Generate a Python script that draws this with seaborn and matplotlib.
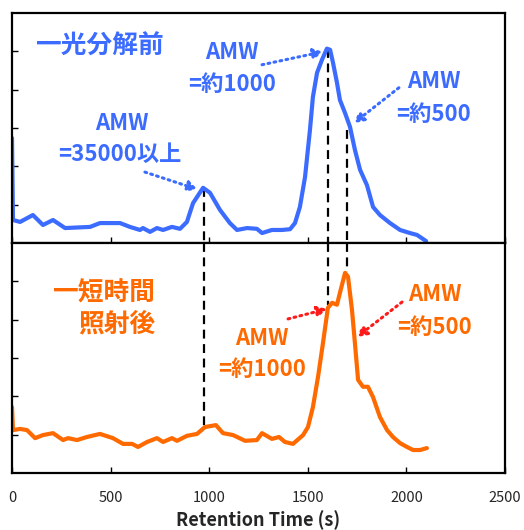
import numpy as np
import pandas as pd
import matplotlib.pyplot as plt
import seaborn as sns

sns.set_style("white")
plt.rcParams["font.family"] = ["Noto Sans CJK JP", "DejaVu Sans"]

# 光分解前 (top trace)
time_before = [0, 5, 41, 106, 157, 208, 269, 396, 446, 548, 598, 649, 664, 700, 735, 766,
               811, 852, 887, 918, 969, 1004, 1055, 1105, 1141, 1192, 1242, 1268, 1318, 1369,
               1410, 1435, 1460, 1486, 1511, 1526, 1547, 1572, 1597, 1613, 1628, 1648, 1663,
               1689, 1714, 1739, 1765, 1800, 1831, 1866, 1917, 1968, 2018, 2054, 2100]
signal_before = [2.74, 0.60, 0.55, 0.73, 0.47, 0.60, 0.39, 0.42, 0.52, 0.52, 0.42, 0.34, 0.39,
                 0.29, 0.39, 0.34, 0.42, 0.37, 0.55, 1.04, 1.44, 1.31, 0.86, 0.52, 0.34, 0.39,
                 0.37, 0.26, 0.34, 0.34, 0.36, 0.52, 0.94, 1.72, 2.95, 3.81, 4.44, 4.78, 5.07,
                 5.04, 4.70, 4.18, 3.73, 3.39, 3.03, 2.43, 1.91, 1.51, 0.94, 0.73, 0.52, 0.34,
                 0.26, 0.21, 0.05]

# 短時間照射後 (bottom trace)
time_after = [0, 5, 41, 76, 117, 157, 208, 259, 284, 330, 380, 446, 512, 563, 609, 639, 685,
              735, 766, 811, 837, 887, 938, 979, 1034, 1070, 1121, 1182, 1242, 1268, 1318,
              1354, 1384, 1425, 1476, 1501, 1526, 1552, 1577, 1602, 1623, 1648, 1663, 1689,
              1704, 1724, 1739, 1755, 1780, 1805, 1831, 1866, 1902, 1932, 1968, 2003, 2034,
              2069, 2104]
signal_after = [1.72, 1.12, 1.15, 1.12, 0.91, 0.99, 1.04, 0.86, 0.91, 0.86, 0.94, 1.02, 0.91,
                0.76, 0.76, 0.68, 0.81, 0.91, 0.81, 0.91, 0.84, 0.97, 1.02, 1.20, 1.25, 1.04,
                0.99, 0.84, 0.86, 1.04, 0.89, 0.94, 0.81, 0.76, 0.99, 1.20, 1.72, 2.51, 3.39,
                4.31, 4.44, 4.39, 4.70, 5.22, 5.12, 4.26, 3.39, 2.43, 2.25, 2.25, 1.98, 1.46,
                1.12, 0.94, 0.78, 0.68, 0.60, 0.60, 0.65]

# dashed guide lines: time, height on top trace, height on bottom trace
guide_times = [975, 1605, 1700]
guide_top = [1.44, 5.07, 2.95]
guide_bottom = [1.20, 4.39, 5.25]

x_ticks = [0, 500, 1000, 1500, 2000, 2500]

blue = "#3b6cff"
orange = "#ff6a00"
red = "#ff1a1a"

df_before = pd.DataFrame({"time": time_before, "signal": signal_before})
df_after = pd.DataFrame({"time": time_after, "signal": signal_after})

fig = plt.figure(figsize=(5.24, 5.30), dpi=100)
ax_top = fig.add_axes([0.0229, 0.5415, 0.9408, 0.434])
ax_bot = fig.add_axes([0.0229, 0.1075, 0.9408, 0.434])

sns.lineplot(data=df_before, x="time", y="signal", ax=ax_top, color=blue, lw=3,
             estimator=None, sort=False, solid_joinstyle="round", solid_capstyle="round")
sns.lineplot(data=df_after, x="time", y="signal", ax=ax_bot, color=orange, lw=3,
             estimator=None, sort=False, solid_joinstyle="round", solid_capstyle="round")

for ax in (ax_top, ax_bot):
    ax.set_xlim(0, 2500)
    ax.set_ylim(0, 6)
    ax.set_xticks(x_ticks)
    ax.set_yticks([1, 2, 3, 4, 5])
    ax.set_yticklabels([])
    ax.set_ylabel("")
    ax.tick_params(direction="in", length=4, width=1, color="black",
                   bottom=True, left=True, top=False, right=False)
    for s in ax.spines.values():
        s.set_linewidth(1.6)
        s.set_color("black")

ax_top.set_xticklabels([])
ax_top.set_xlabel("")
ax_bot.set_xticklabels([str(t) for t in x_ticks], fontsize=10.5)
ax_bot.tick_params(axis="x", pad=13)
ax_bot.set_xlabel("Retention Time (s)", fontsize=13, fontweight="bold", labelpad=4)

# dashed guides through both panels
for t, yt, yb in zip(guide_times, guide_top, guide_bottom):
    ax_top.plot([t, t], [yt, 0], color="black", lw=1.6, ls=(0, (4, 2.5)), clip_on=False, zorder=1)
    ax_bot.plot([t, t], [6, yb], color="black", lw=1.6, ls=(0, (4, 2.5)), clip_on=False, zorder=1)

txt = dict(fontsize=16, fontweight="bold", ha="center", va="center")

# top panel text
ax_top.text(117, 5.12, "一光分解前", color=blue, fontsize=18.5, fontweight="bold",
            ha="left", va="center")
ax_top.text(558, 3.13, "AMW", color=blue, **txt)
ax_top.text(548, 2.30, "=35000以上", color=blue, **txt)
ax_top.text(1116, 4.96, "AMW", color=blue, **txt)
ax_top.text(1116, 4.13, "=約1000", color=blue, **txt)
ax_top.text(2140, 4.20, "AMW", color=blue, **txt)
ax_top.text(2140, 3.34, "=約500", color=blue, **txt)

# bottom panel text
ax_bot.text(725, 4.70, "一短時間", color=orange, fontsize=18.5, fontweight="bold",
            ha="right", va="center")
ax_bot.text(725, 3.90, "照射後", color=orange, fontsize=18.5, fontweight="bold",
            ha="right", va="center")
ax_bot.text(1268, 3.52, "AMW", color=orange, **txt)
ax_bot.text(1268, 2.69, "=約1000", color=orange, **txt)
ax_bot.text(2145, 4.65, "AMW", color=orange, **txt)
ax_bot.text(2145, 3.79, "=約500", color=orange, **txt)


def dotted_arrow(ax, start, end, color):
    ax.annotate("", xy=end, xytext=start,
                arrowprops=dict(arrowstyle="-|>,head_length=0.55,head_width=0.3",
                                color=color, lw=2.2, linestyle=(0, (0.6, 1.4)),
                                capstyle="round", shrinkA=0, shrinkB=0))


dotted_arrow(ax_top, (674, 1.85), (940, 1.40), blue)
dotted_arrow(ax_top, (1268, 4.65), (1577, 4.99), blue)
dotted_arrow(ax_top, (1962, 4.05), (1734, 3.13), blue)
dotted_arrow(ax_bot, (1400, 4.02), (1597, 4.28), red)
dotted_arrow(ax_bot, (1978, 4.46), (1750, 3.55), red)

fig.savefig("out.png", dpi=100)
